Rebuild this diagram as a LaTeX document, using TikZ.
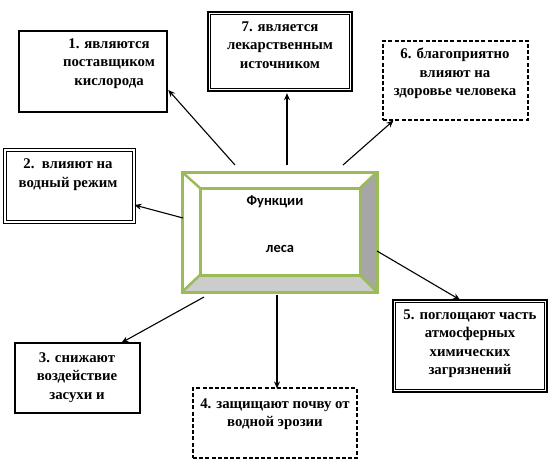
\documentclass[tikz,border=0pt]{standalone}
\usepackage{fontspec}
\setmainfont{Liberation Serif}
\newfontfamily\cfont{Carlito}
\usetikzlibrary{arrows.meta}
\definecolor{lgreen}{HTML}{9BBB59}
\definecolor{bevdark}{HTML}{A6A6A6}
\definecolor{bevlight}{HTML}{CCCCCC}
\tikzset{
  boxbase/.style={rectangle, inner sep=0pt, draw=black},
  thickbox/.style={boxbase, line width=2.6pt},
  dblbox/.style={boxbase, double, line width=0.8pt, double distance=1.6pt},
  tribox/.style={boxbase, line width=2.4pt},
  dashbox/.style={boxbase, line width=1.1pt, dash pattern=on 4pt off 2.2pt},
  txt/.style={align=center, font=\bfseries\fontsize{14.8}{18.5}\selectfont, inner sep=0pt},
  arr/.style={line width=1.1pt, -{Stealth[length=7pt,width=6pt]}},
}
\begin{document}
\begin{tikzpicture}[x=1pt,y=-1pt]
\useasboundingbox (0,0) rectangle (550,466);
% centre box
\node[minimum width=195pt, minimum height=120pt, inner sep=0pt] (cb) at (279.5,232) {};
\coordinate (o1) at (182,172); \coordinate (o2) at (377,172);
\coordinate (o3) at (377,292); \coordinate (o4) at (182,292);
\coordinate (i1) at (200,188); \coordinate (i2) at (360,188);
\coordinate (i3) at (360,275); \coordinate (i4) at (200,275);
\fill[bevdark] (o2) -- (o3) -- (i3) -- (i2) -- cycle;
\fill[bevlight] (o3) -- (o4) -- (i4) -- (i3) -- cycle;
\draw[lgreen, line width=3pt, line join=miter] (o1) rectangle (o3);
\draw[lgreen, line width=3pt, line join=miter] (i1) rectangle (i3);
\draw[lgreen, line width=2.5pt] (o1) -- (i1) (o2) -- (i2) (o3) -- (i3) (o4) -- (i4);
\node[font=\cfont\bfseries\fontsize{14.5}{16}\selectfont, inner sep=0pt] (t0a) at (275,202) {Функции};
\node[font=\cfont\bfseries\fontsize{14.5}{16}\selectfont, inner sep=0pt] (t0b) at (280,249) {леса};

% boxes
\node[thickbox, minimum width=148pt, minimum height=81pt] (b1) at (93,71.5) {};
\node[txt] (t1) at (109,63.5) {1. являются\\поставщиком\\кислорода};

\node[dblbox, minimum width=129pt, minimum height=72pt] (b2) at (69.5,186) {};
\node[txt] (t2) at (68,174.5) {2.~~влияют на\\водный режим};

\node[thickbox, minimum width=125pt, minimum height=70pt] (b3) at (77.5,378) {};
\node[txt] (t3) at (77,377.5) {3. снижают\\воздействие\\засухи и};

\node[dashbox, minimum width=164pt, minimum height=70pt] (b4) at (275,423) {};
\node[txt] (t4) at (275,414) {4. защищают почву от\\водной эрозии};

\node[tribox, minimum width=154pt, minimum height=92pt] (b5) at (470,346) {};
\draw[line width=0.8pt] ([xshift=3.6pt,yshift=-3.6pt]b5.north west) rectangle ([xshift=-3.6pt,yshift=3.6pt]b5.south east);
\node[txt] (t5) at (470,343.5) {5. поглощают часть\\атмосферных\\химических\\загрязнений};

\node[dashbox, minimum width=145pt, minimum height=79pt] (b6) at (455.5,80.5) {};
\node[txt] (t6) at (455,73.5) {6. благоприятно\\влияют на\\здоровье человека};

\node[tribox, minimum width=144pt, minimum height=79pt] (b7) at (280,51.5) {};
\draw[line width=0.8pt] ([xshift=3.6pt,yshift=-3.6pt]b7.north west) rectangle ([xshift=-3.6pt,yshift=3.6pt]b7.south east);
\node[txt] (t7) at (280,45) {7. является\\лекарственным\\источником};

% arrow starts
\coordinate (s1) at (235,165);
\coordinate (s2) at (183,218);
\coordinate (s3) at (204,297);
\coordinate (s4) at (277,295);
\coordinate (s5) at (377,251);
\coordinate (s6) at (343,165);
\coordinate (s7) at (287,165);

\draw[arr] (s1) -- ([yshift=-18.5pt]b1.east);
\draw[arr] (s2) -- ([yshift=-19pt]b2.east);
\draw[arr] (s3) -- ([xshift=44pt,yshift=-1pt]b3.north);
\draw[arr] (s4) -- ([xshift=2pt,yshift=-1pt]b4.north);
\draw[arr] (s5) -- ([xshift=-10pt,yshift=-1pt]b5.north);
\draw[arr] (s6) -- ([xshift=11pt]b6.south west);
\draw[arr] (s7) -- ([xshift=7pt,yshift=-1pt]b7.south);
\end{tikzpicture}
\end{document}
